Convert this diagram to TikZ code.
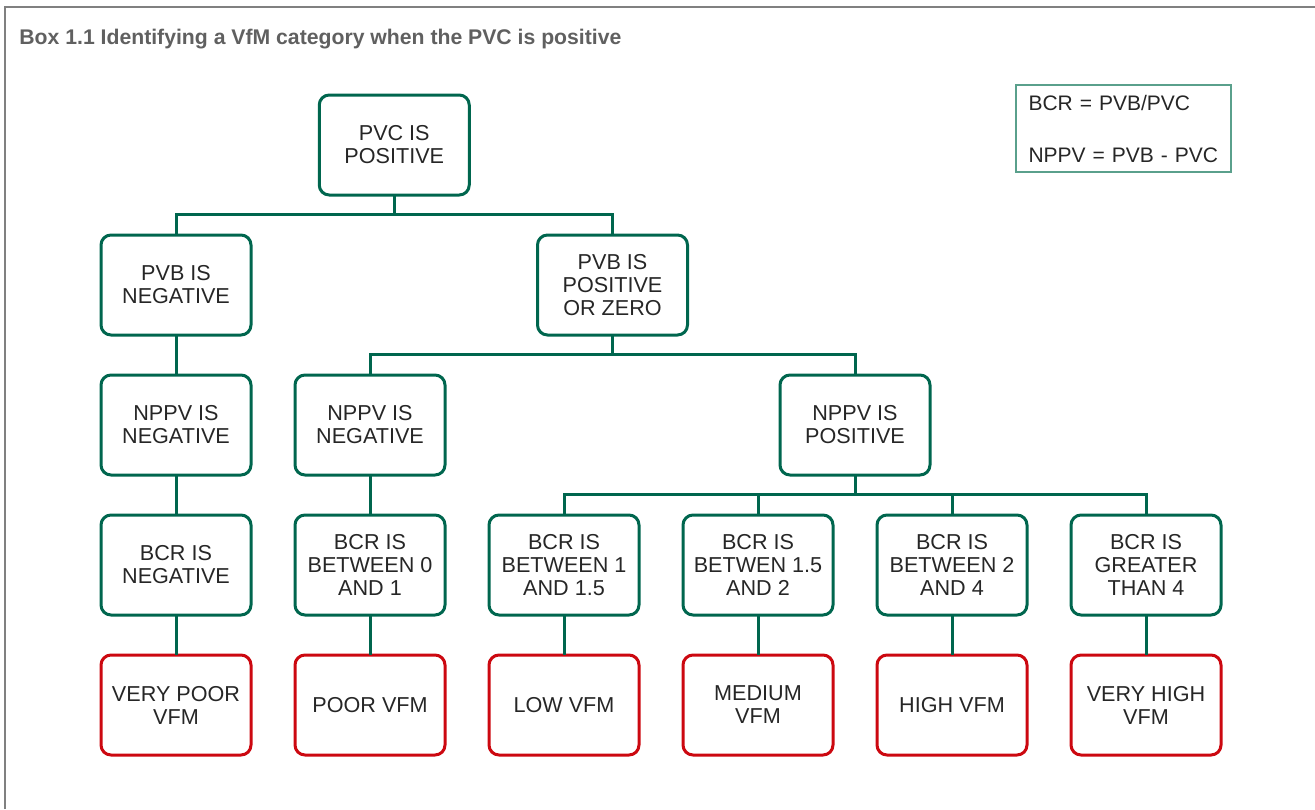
\documentclass[tikz,border=0pt]{standalone}
\usepackage{fontspec}
\setmainfont{Liberation Sans}
\usetikzlibrary{positioning,calc}
\definecolor{boxgreen}{RGB}{0,102,78}
\definecolor{boxred}{RGB}{204,8,16}
\definecolor{keygreen}{RGB}{90,160,140}
\definecolor{titlegray}{RGB}{96,96,96}

\begin{document}
\begin{tikzpicture}[x=0.5pt,y=-0.5pt,node distance=20pt and 22pt,
  test/.style={rectangle,draw=boxgreen,line width=1.5pt,rounded corners=5pt,outer sep=0pt,
    minimum width=75pt,minimum height=50pt,align=center,
    font=\fontsize{10.8}{11.5}\selectfont,text=black!85},
  result/.style={test,draw=boxred},
  key/.style={rectangle,draw=keygreen,line width=0.8pt,minimum width=107.5pt,minimum height=43.5pt,
    align=left,text width=95pt,font=\fontsize{10.5}{11.5}\selectfont,text=black!85},
  link/.style={draw=boxgreen,line width=1.5pt}]
  \useasboundingbox (0,0) rectangle (1315,809);
  \draw[gray,line width=1pt] (5,809) -- (5,7) -- (1315,7);
  \node[anchor=west,inner sep=0pt,text=titlegray,font=\bfseries\fontsize{10.6}{12}\selectfont] (title) at (19,39)
    {Box 1.1 Identifying a VfM category when the PVC is positive};
  \node[key] (formulas) at (1123.5,128.5) {BCR = PVB/PVC\\[14.5pt]NPPV = PVB - PVC};
  % outcomes
  \node[result] (vpoor) at (176,705) {VERY POOR\\VFM};
  \node[result,right=of vpoor] (poor) {POOR VFM};
  \node[result,right=of poor] (low) {LOW VFM};
  \node[result,right=of low] (medium) {MEDIUM\\VFM};
  \node[result,right=of medium] (high) {HIGH VFM};
  \node[result,right=of high] (vhigh) {VERY HIGH\\VFM};
  % BCR tests
  \node[test,above=of vpoor] (bcrneg) {BCR IS\\NEGATIVE};
  \node[test,above=of poor] (bcr01) {BCR IS\\BETWEEN 0\\AND 1};
  \node[test,above=of low] (bcr115) {BCR IS\\BETWEEN 1\\AND 1.5};
  \node[test,above=of medium] (bcr152) {BCR IS\\BETWEN 1.5\\AND 2};
  \node[test,above=of high] (bcr24) {BCR IS\\BETWEEN 2\\AND 4};
  \node[test,above=of vhigh] (bcr4) {BCR IS\\GREATER\\THAN 4};
  % NPPV tests
  \node[test,above=of bcrneg] (nppvneg1) {NPPV IS\\NEGATIVE};
  \node[test,above=of bcr01] (nppvneg2) {NPPV IS\\NEGATIVE};
  \node[test] (nppvpos) at ($(bcr152)!0.5!(bcr24)+(0,-140)$) {NPPV IS\\POSITIVE};
  % PVB tests
  \node[test,above=of nppvneg1] (pvbneg) {PVB IS\\NEGATIVE};
  \node[test] (pvbpos) at ($(nppvneg2)!0.5!(nppvpos)+(0,-140)$) {PVB IS\\POSITIVE\\OR ZERO};
  \node[test] (pvc) at ($(pvbneg)!0.5!(pvbpos)+(0,-140)$) {PVC IS\\POSITIVE};
  % branches
  \coordinate (j1) at ($(pvc.south)+(0,19)$);
  \coordinate (j2) at ($(pvbpos.south)+(0,19)$);
  \coordinate (j3) at ($(nppvpos.south)+(0,19)$);
  \draw[link] (pvc.south) -- (j1);
  \draw[link] (pvbneg.north) |- (j1) -| (pvbpos.north);
  \draw[link] (pvbpos.south) -- (j2);
  \draw[link] (nppvneg2.north) |- (j2) -| (nppvpos.north);
  \draw[link] (nppvpos.south) -- (j3);
  \draw[link] (bcr115.north) |- (j3) -| (bcr4.north);
  \draw[link] (bcr152.north) -- (bcr152.north |- j3);
  \draw[link] (bcr24.north) -- (bcr24.north |- j3);
  \path[link]
  (pvbneg) edge (nppvneg1)
  (nppvneg1) edge (bcrneg)
  (nppvneg2) edge (bcr01)
  (bcrneg) edge (vpoor)
  (bcr01) edge (poor)
  (bcr115) edge (low)
  (bcr152) edge (medium)
  (bcr24) edge (high)
  (bcr4) edge (vhigh);
\end{tikzpicture}
\end{document}
